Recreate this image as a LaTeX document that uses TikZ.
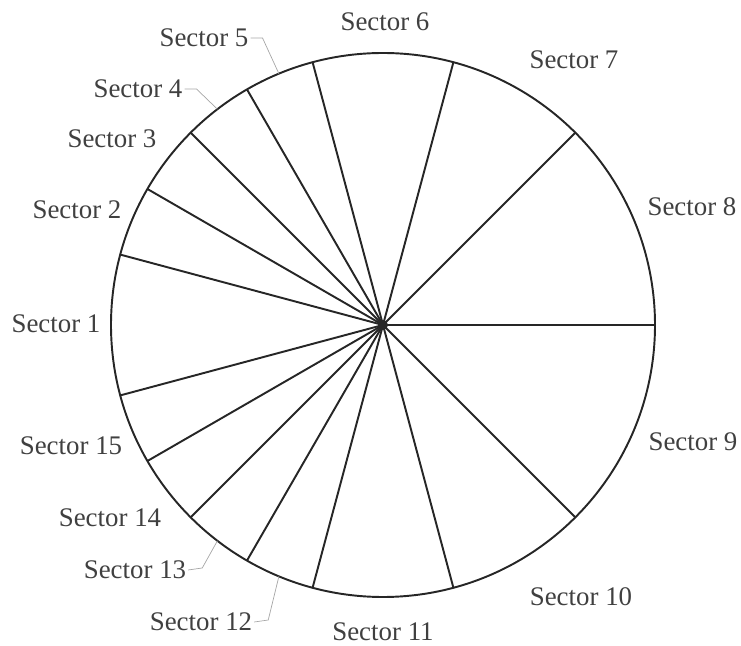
\documentclass[tikz,border=0pt]{standalone}
\usepackage{fontspec}
\setmainfont{Liberation Serif}
\usetikzlibrary{calc}
\tikzstyle{seclabel} = [text=black!75, font=\fontsize{15.3}{18}\selectfont, inner sep=1pt]
\tikzstyle{rim} = [line width=1.1pt, draw=black!85]
\tikzstyle{spoke} = [line width=1.1pt, draw=black!85]
\tikzstyle{leader} = [draw=black!35, line width=0.4pt]

\begin{document}
\begin{tikzpicture}[x=0.02cm, y=0.02cm]
    \useasboundingbox (0,0) rectangle (741,646);
    \coordinate (c) at (383,321);
    \draw [rim] (c) circle (272);
    \foreach \a in {0,45,75,105,120,135,150,165,195,210,225,240,255,285,315} {
        \coordinate (e\a) at ($(c)+(\a:272)$);
        \draw [spoke] (c) -- (e\a);
    }
    \fill [black!85] (c) circle (5);

    \node (s1) [seclabel] at (56,322) {Sector 1};
    \node (s2) [seclabel] at (77,436) {Sector 2};
    \node (s3) [seclabel] at (112,507) {Sector 3};
    \node (s4) [seclabel] at (138,557) {Sector 4};
    \node (s5) [seclabel] at (204,608) {Sector 5};
    \node (s6) [seclabel] at (385,624) {Sector 6};
    \node (s7) [seclabel] at (574,586) {Sector 7};
    \node (s8) [seclabel] at (692,439) {Sector 8};
    \node (s9) [seclabel] at (693,204) {Sector 9};
    \node (s10) [seclabel] at (581,49) {Sector 10};
    \node (s11) [seclabel] at (383,14) {Sector 11};
    \node (s12) [seclabel] at (201,24) {Sector 12};
    \node (s13) [seclabel] at (135,76) {Sector 13};
    \node (s14) [seclabel] at (110,128) {Sector 14};
    \node (s15) [seclabel] at (71,200) {Sector 15};

    % leaders for the narrow sectors
    \coordinate (m4) at ($(c)+(127.5:272)$);
    \coordinate (m5) at ($(c)+(112.5:272)$);
    \coordinate (m12) at ($(c)+(247.5:272)$);
    \coordinate (m13) at ($(c)+(232.5:272)$);
    \draw [leader] (s4.east) -- ++(12,0) -- (m4);
    \draw [leader] (s5.east) -- ++(12,0) -- (m5);
    \draw [leader] (s12.east) -- ++(14,2) -- (m12);
    \draw [leader] (s13.east) -- ++(14,2) -- (m13);
\end{tikzpicture}
\end{document}
